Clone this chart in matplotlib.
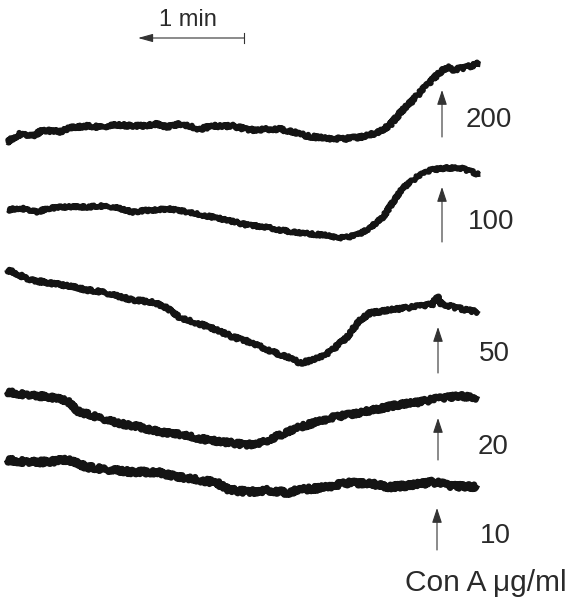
import matplotlib
matplotlib.use("Agg")
import matplotlib.pyplot as plt
from matplotlib import font_manager

# ---- data (position along record, deflection) ----
t200 = [7, 20, 33, 43, 60, 70, 87, 100, 117, 140, 157, 167, 180, 200, 213, 233, 250,
        267, 280, 293, 307, 323, 343, 360, 377, 390, 400, 413, 427, 437, 447, 453, 467, 480]
y200 = [142, 134, 136, 130, 132, 128, 126, 127, 125, 126, 124, 127, 124, 129, 126, 126, 130,
        129, 129, 132, 136, 138, 139, 137, 133, 125, 113, 100, 85, 75, 67, 70, 67, 63]

t100 = [8, 20, 37, 50, 67, 87, 100, 113, 133, 150, 170, 187, 207, 227, 247, 267, 280, 300,
        323, 343, 357, 370, 383, 393, 403, 417, 430, 447, 460, 470, 480]
y100 = [210, 208, 212, 208, 207, 207, 206, 207, 212, 210, 209, 212, 216, 220, 225, 227, 230, 233,
        235, 238, 235, 228, 217, 202, 188, 177, 170, 168, 168, 171, 175]

t50 = [7, 13, 30, 50, 73, 87, 103, 113, 133, 153, 167, 180, 197, 217, 233, 253, 273, 290,
       300, 313, 330, 347, 360, 370, 390, 413, 433, 437, 441, 453, 467, 478]
y50 = [270, 272, 280, 283, 287, 290, 292, 295, 300, 302, 308, 318, 323, 330, 337, 343, 352, 358,
       363, 360, 352, 337, 320, 313, 310, 307, 304, 296, 304, 307, 310, 312]

t20 = [7, 27, 50, 67, 77, 97, 117, 140, 160, 183, 207, 233, 247, 263, 280, 300, 330, 363,
       397, 420, 440, 460, 477]
y20 = [392, 395, 397, 401, 411, 417, 423, 427, 432, 435, 440, 443, 445, 442, 435, 427, 418, 412,
       405, 402, 398, 396, 398]

t10 = [7, 27, 43, 67, 87, 110, 133, 157, 177, 200, 217, 230, 250, 267, 290, 297, 320, 347,
       367, 390, 413, 433, 453, 477]
y10 = [460, 462, 462, 460, 467, 470, 472, 472, 477, 480, 483, 490, 492, 490, 493, 490, 488, 483,
       483, 487, 485, 482, 486, 487]

concentrations = ["200", "100", "50", "20", "10"]
traces = [(t200, y200), (t100, y100), (t50, y50), (t20, y20), (t10, y10)]
noise_level = [1.6, 1.4, 1.6, 2.2, 2.4]
trace_width = [4.0, 3.8, 3.9, 4.4, 4.6]

# addition arrows: (position, tip, tail) and label positions
arrow_x = [442, 442, 438, 438, 437]
arrow_tip = [90, 187, 327, 418, 508]
arrow_tail = [137, 242, 373, 460, 550]
label_x = [489, 491, 494, 493, 495]
label_y = [120, 222, 354, 447, 536]

unit_label = "Con A \u03bcg/ml"
scale_label = "1 min"
scale_start, scale_end, scale_y = 244, 138, 38

# ---- fonts ----
names = {f.name for f in font_manager.fontManager.ttflist}
num_font = "Liberation Sans Narrow" if "Liberation Sans Narrow" in names else "Liberation Sans"
txt_font = "Liberation Sans"

fig = plt.figure(figsize=(5.71, 6.02), dpi=100)
ax = fig.add_axes([0, 0, 1, 1])
ax.set_xlim(0, 571)
ax.set_ylim(602, 0)
ax.axis("off")

ink = "#141414"
for (t, y), nz, lw in zip(traces, noise_level, trace_width):
    line, = ax.plot(t, y, color=ink, lw=lw, solid_capstyle="butt", solid_joinstyle="round")
    line.set_sketch_params(scale=nz, length=1.2, randomness=3.0)

for x, tip, tail, lx, ly, lab in zip(arrow_x, arrow_tip, arrow_tail, label_x, label_y, concentrations):
    ax.annotate("", xy=(x, tip), xytext=(x, tail),
                arrowprops=dict(arrowstyle="-|>,head_length=0.9,head_width=0.3",
                                color="#333333", lw=0.8, shrinkA=0, shrinkB=0))
    ax.text(lx, ly, lab, ha="center", va="center", fontsize=20, family=num_font, color="#2a2a2a")

ax.text(486, 583, unit_label, ha="center", va="center", fontsize=21.5, family=txt_font, color="#2a2a2a")

# time scale bar
ax.annotate("", xy=(scale_end, scale_y), xytext=(scale_start, scale_y),
            arrowprops=dict(arrowstyle="-|>,head_length=0.9,head_width=0.25",
                            color="#333333", lw=0.8, shrinkA=0, shrinkB=0))
ax.plot([scale_start, scale_start], [scale_y - 5, scale_y + 5], color="#333333", lw=0.8)
ax.text(188, 20, scale_label, ha="center", va="center", fontsize=17, family=txt_font, color="#2a2a2a")

fig.savefig("out.png", dpi=100, facecolor="white")
